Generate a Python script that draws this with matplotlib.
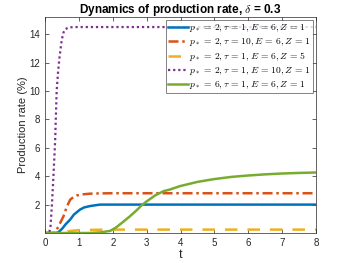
import matplotlib
matplotlib.use("Agg")
import matplotlib.pyplot as plt

# values
t_a = [0, 0.3, 0.39, 0.5, 0.6, 0.74, 0.85, 1.03, 1.15, 1.33, 1.5, 1.62, 2.0, 8.0]
rate_a = [0, 0, 0.05, 0.3, 0.6, 0.95, 1.3, 1.65, 1.8, 1.9, 1.96, 2.0, 2.0, 2.0]

t_b = [0, 0.25, 0.3, 0.4, 0.54, 0.64, 0.74, 0.83, 0.93, 1.1, 1.33, 1.6, 2.0, 8.0]
rate_b = [0, 0, 0.05, 0.5, 1.17, 1.85, 2.35, 2.52, 2.64, 2.72, 2.77, 2.79, 2.8, 2.8]

t_c = [0, 0.35, 0.45, 0.6, 0.8, 1.0, 1.3, 1.6, 2.0, 8.0]
rate_c = [0, 0, 0.04, 0.1, 0.16, 0.2, 0.22, 0.23, 0.24, 0.24]

t_d = [0, 0.12, 0.16, 0.2, 0.245, 0.295, 0.34, 0.38, 0.42, 0.49, 0.54, 0.59, 0.7, 0.85, 8.0]
rate_d = [0, 0, 0.5, 2.0, 4.0, 6.5, 10.0, 11.3, 12.3, 13.6, 14.1, 14.35, 14.47, 14.5, 14.5]

t_e = [0, 1.3, 1.62, 1.92, 2.1, 2.3, 2.5, 2.7, 2.85, 3.0, 3.25, 3.5, 3.67, 3.98, 4.5, 5.0, 5.5, 6.0, 6.5, 7.0, 7.5, 8.0]
rate_e = [0, 0, 0.04, 0.15, 0.4, 0.78, 1.17, 1.6, 1.95, 2.23, 2.65, 2.95, 3.05, 3.3, 3.6, 3.8, 3.95, 4.05, 4.13, 4.19, 4.23, 4.26]

params = [("2", "1", "6", "1"), ("2", "10", "6", "1"), ("2", "1", "6", "5"),
          ("2", "1", "10", "1"), ("6", "1", "6", "1")]
labels = [r"$p_*\,=\,%s,\tau\,=\,%s,E\,=\,%s,Z\,=\,%s$" % p for p in params]
colors = ["#0072BD", "#D95319", "#EDB120", "#7E2F8E", "#77AC30"]

plt.rcParams['font.family'] = ['Liberation Sans', 'DejaVu Sans']
plt.rcParams['mathtext.fontset'] = 'cm'

fig = plt.figure(figsize=(3.5, 2.63), dpi=100)
ax = fig.add_axes([0.129, 0.114, 0.774, 0.821])

ax.plot(t_a, rate_a, color=colors[0], lw=1.8, ls='-', label=labels[0])
ax.plot(t_b, rate_b, color=colors[1], lw=1.8, ls=(0, (4, 1.5, 1, 1.5)), label=labels[1])
ax.plot(t_c, rate_c, color=colors[2], lw=1.8, ls=(0, (5, 4)), label=labels[2])
ax.plot(t_d, rate_d, color=colors[3], lw=1.6, ls=(0, (1, 1.3)), label=labels[3])
ax.plot(t_e, rate_e, color=colors[4], lw=1.8, ls='-', label=labels[4])

ax.set_xlim(0, 8)
ax.set_ylim(0, 15.2)
ax.set_xticks(range(0, 9))
ax.set_yticks([2, 4, 6, 8, 10, 12, 14])
ax.tick_params(direction='in', top=True, right=True, labelsize=7, colors='#262626',
               length=3, width=0.5)
for s in ax.spines.values():
    s.set_color('#262626')
    s.set_linewidth(0.5)

ax.set_xlabel('t', fontsize=9, labelpad=1, color='#262626')
ax.set_ylabel('Production rate (%)', fontsize=8, labelpad=1, color='#262626')
ax.set_title(r'Dynamics of production rate, $\mathit{\delta}$ = 0.3', fontsize=8.5,
             fontweight='bold', pad=3)

leg = ax.legend(loc='upper right', fontsize=6.9, frameon=True, fancybox=False,
                edgecolor='#262626', borderpad=0.2, labelspacing=0.2,
                handlelength=2.0, handletextpad=0.15, borderaxespad=0.35)
leg.get_frame().set_linewidth(0.5)

fig.savefig('out.png', dpi=100)
